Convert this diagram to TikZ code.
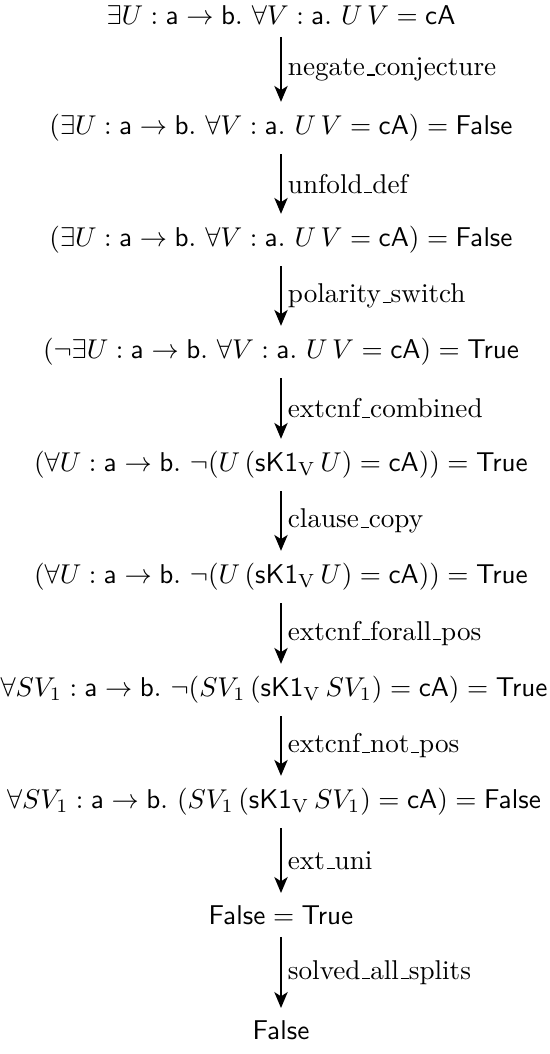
\documentclass[tikz,border=0pt]{standalone}
\usetikzlibrary{arrows.meta,calc}
\newcommand{\us}{\leavevmode\kern.06em\vbox{\hrule width.3em}}
\begin{document}
\begin{tikzpicture}[x=0.368pt,y=-0.368pt,
  fml/.style={inner sep=0pt, anchor=center},
  infer/.style={line width=1.1pt, -{Stealth[length=5.8pt,width=4.8pt,inset=1.5pt]}},
  rulelbl/.style={right, inner sep=2pt}]
\useasboundingbox (0,0) rectangle (550,1054);
\def\s#1{\mathsf{#1}}
\node[fml] (n1) at (281,15)  {$\exists U : \s{a} \to \s{b}.\ \forall V : \s{a}.\ U\,V = \s{cA}$};
\node[fml] (n2) at (281,128) {$(\exists U : \s{a} \to \s{b}.\ \forall V : \s{a}.\ U\,V = \s{cA}) = \s{False}$};
\node[fml] (n3) at (281,240) {$(\exists U : \s{a} \to \s{b}.\ \forall V : \s{a}.\ U\,V = \s{cA}) = \s{False}$};
\node[fml] (n4) at (281,352) {$(\neg\exists U : \s{a} \to \s{b}.\ \forall V : \s{a}.\ U\,V = \s{cA}) = \s{True}$};
\node[fml] (n5) at (281,465) {$(\forall U : \s{a} \to \s{b}.\ \neg(U\,(\s{sK1}_{\mathrm{V}}\,U) = \s{cA})) = \s{True}$};
\node[fml] (n6) at (281,577) {$(\forall U : \s{a} \to \s{b}.\ \neg(U\,(\s{sK1}_{\mathrm{V}}\,U) = \s{cA})) = \s{True}$};
\node[fml] (n7) at (274,690) {$\forall SV_1 : \s{a} \to \s{b}.\ \neg(SV_1\,(\s{sK1}_{\mathrm{V}}\,SV_1) = \s{cA}) = \s{True}$};
\node[fml] (n8) at (274,802) {$\forall SV_1 : \s{a} \to \s{b}.\ (SV_1\,(\s{sK1}_{\mathrm{V}}\,SV_1) = \s{cA}) = \s{False}$};
\node[fml] (n9) at (281,915) {$\s{False} = \s{True}$};
\node[fml] (n10) at (281,1030) {$\s{False}$};
\foreach \a/\b/\l in {n1/n2/negate\us conjecture, n2/n3/unfold\us def, n3/n4/polarity\us switch,
  n4/n5/extcnf\us combined, n5/n6/clause\us copy, n6/n7/extcnf\us forall\us pos,
  n7/n8/extcnf\us not\us pos, n8/n9/ext\us uni, n9/n10/solved\us all\us splits}{
  \coordinate (s\a) at ($(281,0 |- \a.south) + (0,12)$);
  \coordinate (e\a) at ($(281,0 |- \b.north) + (0,-12)$);
  \draw[infer] (s\a) -- node[rulelbl] {\l} (e\a);
}
\end{tikzpicture}
\end{document}
